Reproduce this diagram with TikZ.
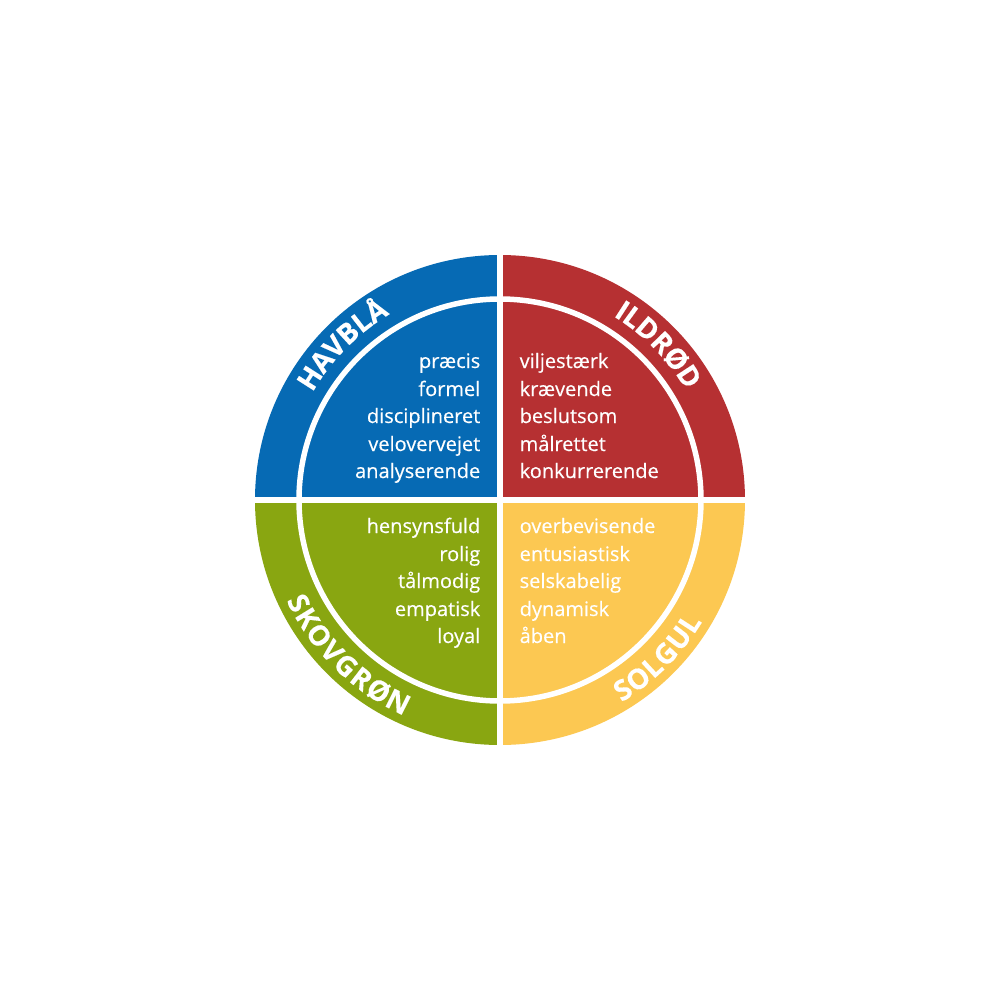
\documentclass[tikz,border=0pt]{standalone}
\usepackage{fontspec}
\setmainfont{Open Sans}
\newfontfamily\listfont{Open Sans}[FakeBold=0.4]
\newfontfamily\headfont{Open Sans}[UprightFont={* Bold},FakeBold=0.3]
\definecolor{qblue}{RGB}{6,106,180}
\definecolor{qred}{RGB}{182,48,50}
\definecolor{qgreen}{RGB}{137,166,17}
\definecolor{qyellow}{RGB}{252,200,82}
\tikzset{
  listtxt/.style={text=white, inner sep=0pt, font=\listfont\fontsize{5.69pt}{6.8pt}\selectfont},
  headletter/.style={text=white, inner sep=0pt, anchor=base, font=\headfont\fontsize{8pt}{9pt}\selectfont},
  gapline/.style={white, line width=0.55mm}
}
\begin{document}
\begin{tikzpicture}[x=0.1mm,y=0.1mm]
\fill[white] (-500,-500) rectangle (500,500);
\useasboundingbox (-500,-500) rectangle (500,500);
% quadrants
\fill[qblue] (0,0) -- (180:245) arc[start angle=180,end angle=90,radius=245] -- cycle;
\fill[qred] (0,0) -- (90:245) arc[start angle=90,end angle=0,radius=245] -- cycle;
\fill[qyellow] (0,0) -- (0:245) arc[start angle=0,end angle=-90,radius=245] -- cycle;
\fill[qgreen] (0,0) -- (270:245) arc[start angle=270,end angle=180,radius=245] -- cycle;
% white separators
\draw[gapline] (0,0) circle[radius=201];
\draw[gapline] (-250,0) -- (250,0);
\draw[gapline] (0,-250) -- (0,250);
% word lists
\foreach \w/\y [count=\i] in {præcis/132,formel/104,disciplineret/77,velovervejet/49,analyserende/22}
  \node[listtxt, anchor=base east] (blue\i) at (-19,\y) {\w};
\foreach \w/\y [count=\i] in {viljestærk/132,krævende/104,beslutsom/77,målrettet/49,konkurrerende/22}
  \node[listtxt, anchor=base west] (red\i) at (19,\y) {\w};
\foreach \w/\y [count=\i] in {hensynsfuld/-33,rolig/-61,tålmodig/-88,empatisk/-116,loyal/-143}
  \node[listtxt, anchor=base east] (green\i) at (-19,\y) {\w};
\foreach \w/\y [count=\i] in {overbevisende/-33,entusiastisk/-61,selskabelig/-88,dynamisk/-116,åben/-143}
  \node[listtxt, anchor=base west] (yellow\i) at (19,\y) {\w};
% curved headings (tops outward)
\foreach \a/\l [count=\i] in {147.35/H,142.09/A,137.22/V,132.35/B,127.80/L,123.25/Å}
  \node[headletter, rotate=\a-90] (hav\i) at (\a:216) {\l};
\foreach \a/\l [count=\i] in {57.15/I,53.93/L,49.21/D,44.03/R,38.68/Ø,33.16/D}
  \node[headletter, rotate=\a-90] (ild\i) at (\a:216) {\l};
% curved headings (tops inward)
\foreach \a/\l [count=\i] in {207.1/S,211.6/K,216.84/O,222.02/V,227.07/G,232.25/R,237.56/Ø,243.21/N}
  \node[headletter, rotate=\a+90] (skov\i) at (\a:236) {\l};
\foreach \a/\l [count=\i] in {302.9/S,307.66/O,312.42/L,317.05/G,322.33/U,327.0/L}
  \node[headletter, rotate=\a+90] (sol\i) at (\a:236) {\l};
\end{tikzpicture}
\end{document}
